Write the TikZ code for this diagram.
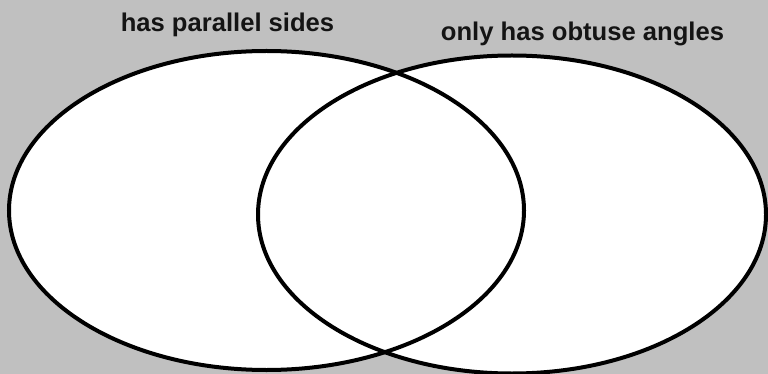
\documentclass[tikz,border=0pt]{standalone}
\usepackage{fontspec}
\setmainfont{Liberation Sans}
\definecolor{bg}{HTML}{C0C0C0}
\tikzset{
  setline/.style={draw=black, line width=4pt},
  setlabel/.style={font=\bfseries\fontsize{25.6}{30}\selectfont, text=black!92, inner sep=0pt, anchor=base}
}
\begin{document}
\begin{tikzpicture}[x=1pt,y=-1pt]
\useasboundingbox (0,0) rectangle (768,374);
\fill[bg] (0,0) rectangle (768,374);
\begin{scope}
\clip (0,0) rectangle (768,374);
\fill[white] (266.5,210.5) ellipse [x radius=257.5, y radius=159.5];
\fill[white] (512,214.5) ellipse [x radius=254, y radius=159];
\draw[setline] (266.5,210.5) ellipse [x radius=257.5, y radius=159.5];
\draw[setline] (512,214.5) ellipse [x radius=254, y radius=159];
\end{scope}
\node[setlabel] (left) at (227.5,31.7) {has parallel sides};
\node[setlabel] (right) at (582.5,41) {only has obtuse angles};
\end{tikzpicture}
\end{document}
